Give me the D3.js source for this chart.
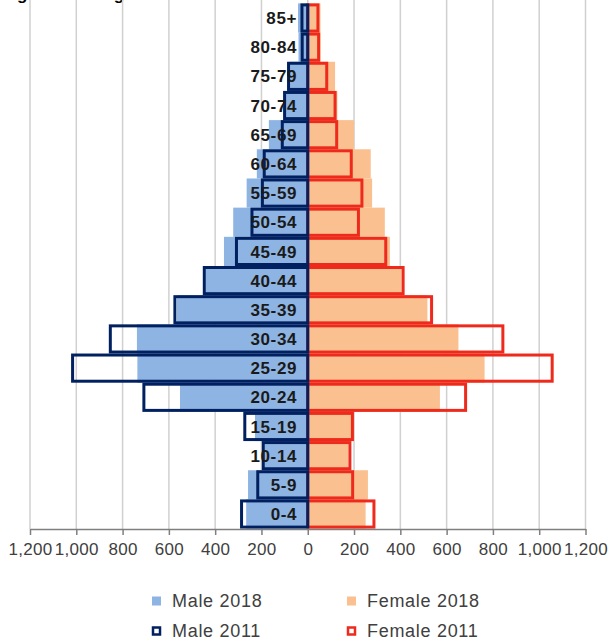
<!DOCTYPE html>
<html>
<head>
<meta charset="utf-8">
<script src="https://cdn.jsdelivr.net/npm/d3@7"></script>
<style>
  body { margin: 0; background: #fff; }
  svg { display: block; font-family: "Liberation Sans", Arial, sans-serif; }
</style>
</head>
<body>
<div class="container"></div>
<script>
// age groups, top to bottom
const ageGroups = ["85+", "80-84", "75-79", "70-74", "65-69", "60-64", "55-59", "50-54",
    "45-49", "40-44", "35-39", "30-34", "25-29", "20-24", "15-19", "10-14", "5-9", "0-4"];

const male2018   = [42, 40, 80, 105, 168, 220, 264, 322, 362, 442, 565, 738, 736, 552, 228, 186, 258, 266];
const female2018 = [55, 56, 118, 128, 200, 272, 278, 333, 355, 405, 517, 651, 764, 571, 200, 174, 260, 250];
const male2011   = [25, 24, 83, 100, 110, 188, 196, 241, 308, 447, 574, 853, 1016, 708, 272, 192, 216, 286];
const female2011 = [44, 47, 82, 118, 125, 188, 234, 219, 337, 412, 535, 843, 1056, 682, 193, 182, 194, 286];

const tickValues = [-1200, -1000, -800, -600, -400, -200, 0, 200, 400, 600, 800, 1000, 1200];

const legendItems = [
    {label: "Male 2018", fill: "#8eb4e3", stroke: "none"},
    {label: "Female 2018", fill: "#fac090", stroke: "none"},
    {label: "Male 2011", fill: "#fff", stroke: "#002060"},
    {label: "Female 2011", fill: "#fff", stroke: "#ee2a1c"}
];

const width = 609, height = 644;

const svg = d3.select('.container')
    .append('svg')
    .attr('width', width)
    .attr('height', height);

const x = d3.scaleLinear().domain([-1200, 1200]).range([30, 585.5]);
const y = d3.scaleBand().domain(ageGroups).range([3.4, 528.6]).padding(0);

// title, cropped at the top edge as in the source image
svg.append('text')
    .attr('x', 2).attr('y', 0)
    .attr('font-size', 17).attr('font-weight', 'bold')
    .attr('fill', '#000')
    .text('Figure 10.1: Age structure');

// gridlines
svg.append('g').selectAll('line')
    .data(tickValues)
    .enter().append('line')
    .attr('x1', d => x(d)).attr('x2', d => x(d))
    .attr('y1', 0).attr('y2', 529)
    .attr('stroke', '#d0d0d0').attr('stroke-width', 1.5);

const rows = ageGroups.map((a, i) => ({
    age: a, m18: male2018[i], f18: female2018[i], m11: male2011[i], f11: female2011[i]
}));

// 2018 filled bars
svg.append('g').selectAll('rect')
    .data(rows).enter().append('rect')
    .attr('x', d => x(-d.m18)).attr('y', d => y(d.age))
    .attr('width', d => x(0) - x(-d.m18)).attr('height', y.bandwidth())
    .attr('fill', '#8eb4e3');

svg.append('g').selectAll('rect')
    .data(rows).enter().append('rect')
    .attr('x', x(0)).attr('y', d => y(d.age))
    .attr('width', d => x(d.f18) - x(0)).attr('height', y.bandwidth())
    .attr('fill', '#fac090');

// 2011 outline bars
svg.append('g').selectAll('rect')
    .data(rows).enter().append('rect')
    .attr('x', x(0)).attr('y', d => y(d.age) + 1.5)
    .attr('width', d => x(d.f11) - x(0)).attr('height', y.bandwidth() - 3)
    .attr('fill', 'none').attr('stroke', '#ee2a1c').attr('stroke-width', 3);

svg.append('g').selectAll('rect')
    .data(rows).enter().append('rect')
    .attr('x', d => x(-d.m11)).attr('y', d => y(d.age) + 1.5)
    .attr('width', d => x(0) - x(-d.m11)).attr('height', y.bandwidth() - 3)
    .attr('fill', 'none').attr('stroke', '#002060').attr('stroke-width', 3);

// age labels
svg.append('g').selectAll('text')
    .data(ageGroups).enter().append('text')
    .attr('x', 297).attr('y', d => y(d) + y.bandwidth() / 2)
    .attr('dy', '0.36em')
    .attr('text-anchor', 'end')
    .attr('font-size', 17).attr('font-weight', 'bold')
    .attr('letter-spacing', 0.6)
    .attr('fill', '#1a1a1a')
    .text(d => d);

// x axis
const axis = svg.append('g')
    .attr('transform', 'translate(0,529)')
    .call(d3.axisBottom(x).tickValues(tickValues).tickSize(6).tickSizeOuter(0)
        .tickFormat(d => d3.format(',')(Math.abs(d))));
axis.select('.domain').attr('stroke', '#7f7f7f').attr('stroke-width', 1.5);
axis.selectAll('.tick line').attr('stroke', '#7f7f7f').attr('stroke-width', 1.5);
axis.selectAll('.tick text')
    .attr('font-family', '"Liberation Sans", Arial, sans-serif')
    .attr('font-size', 17).attr('fill', '#404040').attr('y', 14)
    .attr('letter-spacing', 0.3);

// legend
const legend = svg.append('g').selectAll('g')
    .data(legendItems).enter().append('g')
    .attr('transform', (d, i) => `translate(${i % 2 ? 347 : 152},${i < 2 ? 601 : 631})`);
legend.append('rect')
    .attr('x', d => d.stroke === 'none' ? 0 : 1).attr('y', d => d.stroke === 'none' ? -4.5 : -3.5)
    .attr('width', d => d.stroke === 'none' ? 9 : 7).attr('height', d => d.stroke === 'none' ? 9 : 7)
    .attr('fill', d => d.fill).attr('stroke', d => d.stroke).attr('stroke-width', 2.5);
legend.append('text')
    .attr('x', 20).attr('dy', '0.36em')
    .attr('font-size', 18).attr('fill', '#404040')
    .attr('letter-spacing', 0.7)
    .text(d => d.label);
</script>
</body>
</html>
